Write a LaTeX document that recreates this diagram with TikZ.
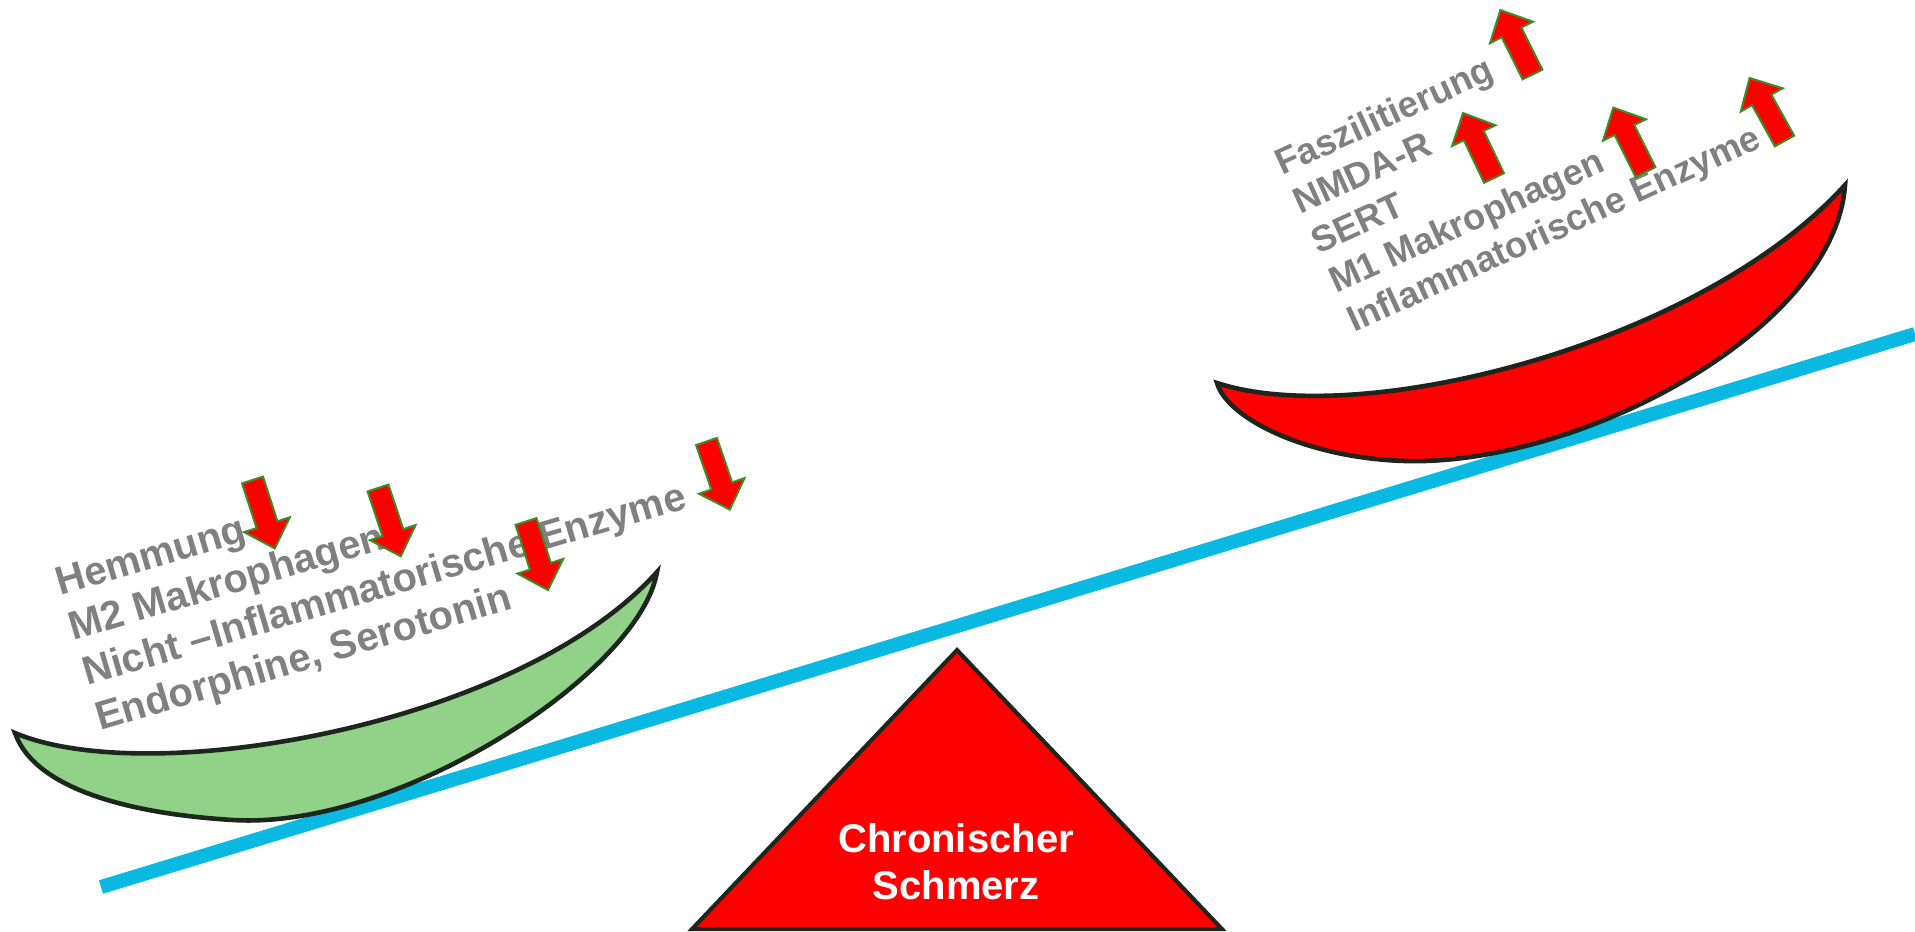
\documentclass[tikz,border=0pt]{standalone}
\usepackage{fontspec}
\setmainfont{Liberation Sans}
\definecolor{dishline}{RGB}{28,38,28}
\definecolor{beam}{RGB}{10,185,226}
\definecolor{dishgreen}{RGB}{146,210,136}
\definecolor{txtgray}{RGB}{128,128,128}
\definecolor{arrowedge}{RGB}{60,140,40}
\tikzset{
  dish/.style={draw=dishline, line width=2.3pt, line join=miter, miter limit=6},
  beamline/.style={draw=beam, line width=7pt},
  lefttext/.style={text=txtgray, font=\bfseries\fontsize{20}{24}\selectfont, inner sep=0pt, anchor=base west, rotate=16.5},
  righttext/.style={text=txtgray, font=\bfseries\fontsize{18.2}{22}\selectfont, inner sep=0pt, anchor=base west, rotate=24.5},
  fulcrumtext/.style={text=white, font=\bfseries\fontsize{20}{24}\selectfont, inner sep=0pt, anchor=base},
  pics/blockarrow/.style={code={
    \draw[fill=red, draw=arrowedge, line width=1pt, line join=miter]
      (0,-11) -- (47,-11) -- (47,-24) -- (72,0) -- (47,24) -- (47,11) -- (0,11) -- cycle;}}
}
\begin{document}
\begin{tikzpicture}[x=0.5pt,y=-0.5pt]
\useasboundingbox (0,0) rectangle (1915,931);

% beam
\coordinate (beamL) at (101,887);
\coordinate (beamR) at (1915,334);
\draw[beamline] (beamL) -- (beamR);

% fulcrum
\coordinate (apex) at (957,650);
\coordinate (baseL) at (692,929);
\coordinate (baseR) at (1222,929);
\draw[fill=red, draw=dishline, line width=2pt, line join=miter] (apex) -- (baseR) -- (baseL) -- cycle;
\node[fulcrumtext] (chron) at (956,852) {Chronischer};
\node[fulcrumtext] (schm) at (956,899) {Schmerz};

% green dish
\coordinate (gL) at (15,733);
\coordinate (gR) at (657,572);
\coordinate (gB) at (233,820);
\draw[dish, fill=dishgreen]
  (gL) .. controls (150,790) and (520,725) .. (gR)
       .. controls (640,672) and (400,830) .. (gB)
       .. controls (133,814) and (35,790) .. (gL) -- cycle;

% red dish
\coordinate (rL) at (1217,383);
\coordinate (rR) at (1845,185);
\coordinate (rB) at (1405,461);
\draw[dish, fill=red]
  (rL) .. controls (1360,430) and (1700,345) .. (rR)
       .. controls (1835,330) and (1580,466) .. (rB)
       .. controls (1310,458.3) and (1228,420) .. (rL) -- cycle;

% left texts
\node[lefttext] (hem) at (60,596) {Hemmung};
\node[lefttext] (mtwo) at (73.5,641) {M2 Makrophagen};
\node[lefttext] (nicht) at (87,686) {Nicht –Inflammatorische Enzyme};
\node[lefttext] (endo) at (100,731) {Endorphine, Serotonin};

% right texts
\node[righttext] (fasz) at (1282,176) {Faszilitierung};
\node[righttext] (nmda) at (1300,215) {NMDA-R};
\node[righttext] (sert) at (1318,255) {SERT};
\node[righttext] (mone) at (1336,294) {M1 Makrophagen};
\node[righttext] (infl) at (1354,333) {Inflammatorische Enzyme};

% down arrows
\pic[rotate=-72] (dA) at (252.5,480) {blockarrow};
\pic[rotate=-71.6] (dB) at (378,488) {blockarrow};
\pic[rotate=-72.2] (dC) at (526,521.5) {blockarrow};
\pic[rotate=-71.1] (dD) at (706.5,441.5) {blockarrow};

% up arrows
\pic[rotate=116.5] (uA) at (1532.5,74.5) {blockarrow};
\pic[rotate=115.5] (uD) at (1494,178) {blockarrow};
\pic[rotate=116.6] (uB) at (1645.5,172) {blockarrow};
\pic[rotate=119] (uC) at (1784.5,141) {blockarrow};
\end{tikzpicture}
\end{document}
